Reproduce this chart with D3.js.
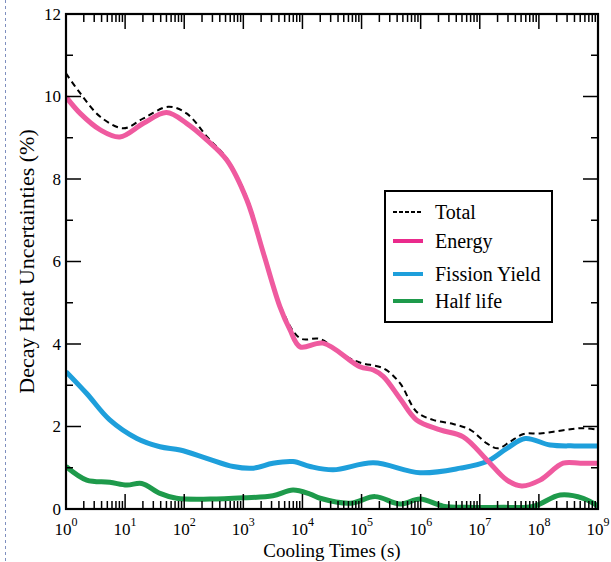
<!DOCTYPE html>
<html>
<head>
<meta charset="utf-8">
<script src="https://cdn.jsdelivr.net/npm/d3@7"></script>
<style>
  body { margin: 0; background: #fff; }
  text { font-family: "Liberation Serif", "DejaVu Serif", serif; fill: #000; }
</style>
</head>
<body>
<svg id="chart" width="611" height="562"></svg>
<script>
// cooling time exponents (log10 s) and uncertainties (%)
const totalLogT = [0, 0.24, 0.58, 0.97, 1.31, 1.73, 2.04, 2.4, 2.72, 3.06, 3.34, 3.62, 3.96, 4.3, 4.64, 4.97, 5.37, 5.65, 5.93, 6.21, 6.55, 6.84, 7.12, 7.31, 7.51, 7.74, 8.02, 8.47, 8.75, 9];
const totalVals = [10.56, 10.08, 9.51, 9.23, 9.47, 9.75, 9.59, 9.0, 8.5, 7.55, 6.25, 4.95, 4.14, 4.12, 3.78, 3.55, 3.41, 3.05, 2.36, 2.16, 2.06, 1.92, 1.59, 1.47, 1.63, 1.82, 1.83, 1.92, 1.96, 1.92];

const energyLogT = [0, 0.24, 0.58, 0.91, 1.31, 1.7, 2.04, 2.38, 2.72, 3.06, 3.34, 3.62, 3.79, 3.96, 4.35, 4.97, 5.2, 5.37, 5.65, 5.93, 6.33, 6.72, 7.12, 7.46, 7.71, 8.02, 8.41, 8.7, 9];
const energyVals = [9.99, 9.59, 9.19, 9.02, 9.35, 9.61, 9.35, 8.95, 8.46, 7.49, 6.2, 4.9, 4.34, 3.93, 4.02, 3.45, 3.37, 3.21, 2.68, 2.16, 1.92, 1.75, 1.19, 0.7, 0.56, 0.7, 1.11, 1.11, 1.11];

const fissionLogT = [0, 0.35, 0.74, 1.2, 1.59, 1.93, 2.38, 2.83, 3.17, 3.5, 3.84, 4.13, 4.52, 5.2, 5.99, 6.67, 7.12, 7.46, 7.77, 8.19, 8.6, 9];
const fissionVals = [3.33, 2.8, 2.16, 1.71, 1.51, 1.43, 1.23, 1.03, 0.99, 1.11, 1.15, 1.03, 0.95, 1.12, 0.88, 0.99, 1.15, 1.47, 1.71, 1.55, 1.53, 1.53];

const halfLogT = [0, 0.35, 0.74, 1.03, 1.28, 1.59, 1.87, 2.44, 3.0, 3.5, 3.84, 4.13, 4.3, 4.81, 5.23, 5.65, 5.99, 6.38, 6.78, 7.4, 7.9, 8.36, 8.75, 9];
const halfVals = [1.03, 0.7, 0.65, 0.58, 0.62, 0.38, 0.26, 0.24, 0.27, 0.32, 0.46, 0.36, 0.26, 0.14, 0.3, 0.12, 0.24, 0.07, 0.04, 0.04, 0.06, 0.34, 0.26, 0.07];

const yTicks = [0, 2, 4, 6, 8, 10, 12];
const xExponents = [0, 1, 2, 3, 4, 5, 6, 7, 8, 9];

const series = [
  { name: 'Total', logT: totalLogT, vals: totalVals, color: '#000', width: 2, dash: '6,4' },
  { name: 'Energy', logT: energyLogT, vals: energyVals, color: '#ef5a9f', width: 5, legendColor: '#ea2a8c' },
  { name: 'Fission Yield', logT: fissionLogT, vals: fissionVals, color: '#1e9fdb', width: 5 },
  { name: 'Half life', logT: halfLogT, vals: halfVals, color: '#1e9a4b', width: 5 }
];

const svg = d3.select('#chart');
const margin = { top: 14, right: 13, bottom: 53, left: 66 };
const width = 611, height = 562;
const x0 = margin.left, x1 = width - margin.right, y0 = height - margin.bottom, y1 = margin.top;

const x = d3.scaleLog().domain([1, 1e9]).range([x0, x1]);
const y = d3.scaleLinear().domain([0, 12]).range([y0, y1]);

// page margin marker on the left
svg.append('line')
  .attr('x1', 5.5).attr('x2', 5.5).attr('y1', 0).attr('y2', height)
  .attr('stroke', '#7f8fbf').attr('stroke-width', 1).attr('stroke-dasharray', '3,3');

// curves
svg.append('clipPath').attr('id', 'clip').append('rect')
  .attr('x', x0).attr('y', y1).attr('width', x1 - x0).attr('height', y0 - y1);

const line = d3.line()
  .x(d => x(Math.pow(10, d[0])))
  .y(d => y(d[1]))
  .curve(d3.curveCatmullRom.alpha(0.5));

const plot = svg.append('g').attr('clip-path', 'url(#clip)');
[series[0], series[2], series[3], series[1]].forEach(s => {
  plot.append('path')
    .attr('d', line(s.logT.map((t, i) => [t, s.vals[i]])))
    .attr('fill', 'none')
    .attr('stroke', s.color)
    .attr('stroke-width', s.width)
    .attr('stroke-dasharray', s.dash || null)
    .attr('stroke-linejoin', 'round')
    .attr('stroke-linecap', 'butt');
});

// ticks, inward on all four sides
const minorX = [];
xExponents.slice(0, -1).forEach(e => {
  for (let k = 2; k <= 9; k++) minorX.push(k * Math.pow(10, e));
});
const majorX = xExponents.map(e => Math.pow(10, e));

const ticks = svg.append('g').attr('stroke', '#000').attr('stroke-width', 1.5);
majorX.forEach(v => {
  ticks.append('line').attr('x1', x(v)).attr('x2', x(v)).attr('y1', y0).attr('y2', y0 - 15);
  ticks.append('line').attr('x1', x(v)).attr('x2', x(v)).attr('y1', y1).attr('y2', y1 + 15);
});
minorX.forEach(v => {
  ticks.append('line').attr('x1', x(v)).attr('x2', x(v)).attr('y1', y0).attr('y2', y0 - 8);
  ticks.append('line').attr('x1', x(v)).attr('x2', x(v)).attr('y1', y1).attr('y2', y1 + 8);
});
d3.range(0, 12.01, 1).forEach(v => {
  const len = v % 2 === 0 ? 15 : 7;
  ticks.append('line').attr('x1', x0).attr('x2', x0 + len).attr('y1', y(v)).attr('y2', y(v));
  ticks.append('line').attr('x1', x1).attr('x2', x1 - len).attr('y1', y(v)).attr('y2', y(v));
});

// frame
svg.append('rect')
  .attr('x', x0).attr('y', y1).attr('width', x1 - x0).attr('height', y0 - y1)
  .attr('fill', 'none').attr('stroke', '#000').attr('stroke-width', 2.2);

// tick labels
svg.append('g').selectAll('text').data(yTicks).join('text')
  .attr('x', x0 - 5).attr('y', d => y(d)).attr('dy', '0.35em')
  .attr('text-anchor', 'end').attr('font-size', 17)
  .text(d => d);

const xl = svg.append('g').selectAll('text').data(xExponents).join('text')
  .attr('x', d => x(Math.pow(10, d))).attr('y', y0 + 26)
  .attr('text-anchor', 'middle').attr('font-size', 17);
xl.append('tspan').text('10');
xl.append('tspan').attr('font-size', 12).attr('dy', -9).text(d => d);

// axis titles
svg.append('text')
  .attr('x', (x0 + x1) / 2).attr('y', height - 5)
  .attr('text-anchor', 'middle').attr('font-size', 19)
  .text('Cooling Times (s)');

svg.append('text')
  .attr('transform', `translate(34,${(y0 + y1) / 2}) rotate(-90)`)
  .attr('text-anchor', 'middle').attr('font-size', 22)
  .text('Decay Heat Uncertainties (%)');

// legend
const lg = svg.append('g').attr('transform', 'translate(385,191)');
lg.append('rect').attr('width', 167).attr('height', 131)
  .attr('fill', '#fff').attr('stroke', '#000').attr('stroke-width', 2);
const rows = [21, 50, 83, 110];
series.forEach((s, i) => {
  lg.append('line')
    .attr('x1', 8).attr('x2', 38).attr('y1', rows[i]).attr('y2', rows[i])
    .attr('stroke', s.legendColor || s.color)
    .attr('stroke-width', s.dash ? 2 : 4)
    .attr('stroke-dasharray', s.dash ? '4,2' : null);
  lg.append('text')
    .attr('x', 50).attr('y', rows[i]).attr('dy', '0.35em')
    .attr('font-size', 20)
    .text(s.name);
});
</script>
</body>
</html>
